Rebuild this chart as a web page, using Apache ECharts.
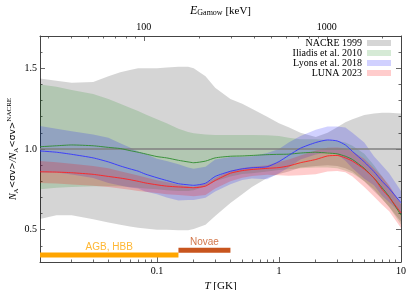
<!DOCTYPE html>
<html><head><meta charset="utf-8">
<script src="https://cdn.jsdelivr.net/npm/echarts@6/dist/echarts.min.js"></script>
<style>html,body{margin:0;padding:0;background:#fff}#c{width:415px;height:290px}</style>
</head><body><div id="c"></div>
<script>
// Temperature grid [GK]
const T = [0.011,0.015,0.02,0.03,0.04,0.05,0.06,0.07,0.08,0.1,0.12,0.15,0.18,0.2,0.25,0.3,0.4,0.5,0.6,0.8,1,1.2,1.5,2,2.5,3,3.5,4,5,6,7,8,10];
// NACRE 1999 band
const nacreLo = [0.567,0.59,0.59,0.565,0.545,0.53,0.52,0.512,0.508,0.5,0.5,0.497,0.497,0.505,0.53,0.585,0.665,0.72,0.765,0.82,0.845,0.86,0.885,0.895,0.9,0.895,0.88,0.86,0.8,0.74,0.69,0.64,0.55];
const nacreHi = [1.437,1.423,1.41,1.415,1.45,1.475,1.49,1.5,1.5,1.5,1.505,1.51,1.51,1.5,1.45,1.38,1.31,1.28,1.25,1.2,1.16,1.135,1.1,1.075,1.1,1.135,1.165,1.185,1.21,1.22,1.225,1.225,1.22];
// Iliadis et al. 2010
const iliLo  = [0.75,0.76,0.765,0.77,0.77,0.77,0.765,0.76,0.755,0.75,0.745,0.74,0.74,0.745,0.77,0.8,0.83,0.845,0.85,0.86,0.87,0.875,0.88,0.885,0.885,0.88,0.865,0.85,0.8,0.75,0.69,0.64,0.53];
const iliMid = [1.014,1.02,1.025,1.02,1.01,1.003,0.99,0.98,0.97,0.953,0.945,0.93,0.92,0.915,0.925,0.945,0.955,0.957,0.96,0.965,0.967,0.968,0.975,0.98,0.975,0.97,0.955,0.935,0.88,0.82,0.76,0.705,0.59];
const iliHi  = [1.4,1.385,1.365,1.34,1.31,1.28,1.255,1.235,1.215,1.185,1.16,1.125,1.105,1.097,1.09,1.087,1.087,1.087,1.087,1.085,1.08,1.07,1.06,1.06,1.055,1.05,1.04,1.02,0.97,0.9,0.83,0.77,0.66];
// Lyons et al. 2018
const lyoLo  = [0.854,0.854,0.842,0.82,0.79,0.774,0.762,0.756,0.736,0.719,0.7,0.681,0.684,0.684,0.698,0.737,0.782,0.808,0.818,0.812,0.85,0.886,0.935,0.966,0.978,0.967,0.927,0.88,0.815,0.775,0.71,0.67,0.6];
const lyoMid = [0.988,0.98,0.967,0.945,0.92,0.895,0.877,0.863,0.845,0.822,0.805,0.785,0.778,0.775,0.788,0.83,0.862,0.877,0.884,0.89,0.922,0.96,1.005,1.04,1.056,1.05,1.025,0.985,0.92,0.86,0.8,0.755,0.667];
const lyoHi  = [1.143,1.125,1.11,1.09,1.07,1.035,1.01,0.985,0.97,0.94,0.925,0.905,0.885,0.878,0.89,0.935,0.95,0.952,0.955,0.975,1.0,1.04,1.08,1.12,1.14,1.14,1.133,1.1,1.04,0.955,0.9,0.85,0.74];
// LUNA 2023
const lunaLo  = [0.79,0.787,0.78,0.772,0.765,0.755,0.748,0.74,0.735,0.728,0.72,0.715,0.71,0.708,0.715,0.755,0.8,0.822,0.832,0.84,0.838,0.835,0.838,0.843,0.86,0.863,0.856,0.83,0.765,0.705,0.655,0.615,0.51];
const lunaMid = [0.859,0.857,0.853,0.843,0.83,0.82,0.81,0.8,0.79,0.778,0.77,0.765,0.762,0.76,0.77,0.805,0.85,0.866,0.873,0.88,0.885,0.895,0.915,0.935,0.957,0.96,0.945,0.925,0.875,0.82,0.75,0.7,0.604];
const lunaHi  = [0.925,0.918,0.909,0.895,0.88,0.862,0.848,0.836,0.825,0.806,0.795,0.778,0.77,0.766,0.785,0.82,0.865,0.883,0.89,0.9,0.92,0.935,0.96,0.99,1.008,1.01,1.005,0.985,0.94,0.88,0.83,0.775,0.657];
// reference line (NACRE / NACRE)
const refT = [0.011, 10];
const refV = [1, 1];
// astrophysical sites
const agbRange = [0.011, 0.15];
const agbY = 0.343;
const novaeRange = [0.15, 0.4];
const novaeY = 0.373;
// ticks
const tMajor = [0.1, 1, 10];
const tMinor = [0.02,0.03,0.04,0.05,0.06,0.07,0.08,0.09,0.2,0.3,0.4,0.5,0.6,0.7,0.8,0.9,2,3,4,5,6,7,8,9];
const eMajor = [100, 1000];
const eMinor = [30,40,50,60,70,80,90,200,300,400,500,600,700,800,900,2000];
const yMajor = [0.5, 1.0, 1.5];
const yMinor = [0.3,0.4,0.6,0.7,0.8,0.9,1.1,1.2,1.3,1.4,1.6,1.7];
const tMin = 0.011, tMax = 10;
const gamowCoef = 548; // E0[keV] = coef * T9^(2/3)
const eMin = gamowCoef * Math.pow(tMin, 2/3), eMax = gamowCoef * Math.pow(tMax, 2/3);

const C = {
  nacre: 'rgba(0,0,0,0.165)',
  ili: 'rgba(0,128,0,0.165)',
  lyo: 'rgba(0,0,255,0.18)',
  luna: 'rgba(255,0,0,0.2)'
};
const serif = 'Liberation Serif';
const frame = '#444';

function band(name, lo, hi, color, z) {
  return {
    type: 'custom', name: name, z: z, xAxisIndex: 0, yAxisIndex: 0, clip: true,
    itemStyle: { color: color },
    data: T.map((t, i) => [t, lo[i], hi[i]]),
    encode: { x: 0, y: [1, 2] },
    renderItem: function (params, api) {
      if (params.dataIndex !== 0) return null;
      const pts = [];
      for (let i = 0; i < T.length; i++) pts.push(api.coord([T[i], hi[i]]));
      for (let i = T.length - 1; i >= 0; i--) pts.push(api.coord([T[i], lo[i]]));
      return { type: 'polygon', shape: { points: pts }, style: { fill: color }, silent: true };
    }
  };
}
function line(name, ys, color, w, z) {
  return { type: 'line', name: name, z: z, data: T.map((t, i) => [t, ys[i]]), showSymbol: false, symbol: 'none',
    smooth: 0.2, lineStyle: { color: color, width: w }, silent: true };
}
function tickAxis(type, pos, min, max, vals, len, extra) {
  return Object.assign({
    type: 'log', logBase: 10, position: pos, min: min, max: max,
    axisLine: { show: false }, splitLine: { show: false },
    axisTick: { show: true, inside: true, length: len, customValues: vals, lineStyle: { color: frame, width: 0.8 } },
    axisLabel: { show: false }
  }, extra || {});
}
const fmt = v => String(+(+v).toPrecision(3));

const option = {
  animation: false,
  backgroundColor: '#fff',
  grid: { left: 40, right: 14, top: 36, bottom: 28, containLabel: false, outerBoundsMode: 'none' },
  legend: {
    right: 24, top: 38, orient: 'vertical', align: 'right', padding: 0, itemGap: 0,
    itemWidth: 24, itemHeight: 6, icon: 'rect',
    textStyle: { fontFamily: serif, fontSize: 10, color: '#000', lineHeight: 10 },
    data: [
      { name: 'NACRE 1999', itemStyle: { color: C.nacre } },
      { name: 'Iliadis et al. 2010', itemStyle: { color: C.ili } },
      { name: 'Lyons et al. 2018', itemStyle: { color: C.lyo } },
      { name: 'LUNA 2023', itemStyle: { color: C.luna } }
    ]
  },
  xAxis: [
    {
      type: 'log', logBase: 10, position: 'bottom', min: tMin, max: tMax,
      axisLine: { show: true, lineStyle: { color: frame, width: 1 } }, splitLine: { show: false },
      axisTick: { show: true, inside: true, length: 5, customValues: tMajor, lineStyle: { color: frame, width: 0.8 } },
      axisLabel: { customValues: tMajor, formatter: fmt, fontFamily: serif, fontSize: 10, color: '#000', margin: 4 },
      name: '{i|T}{n| [GK]}', nameLocation: 'middle', nameGap: 12,
      nameTextStyle: { rich: { i: { fontFamily: serif, fontStyle: 'italic', fontSize: 11, color: '#000' }, n: { fontFamily: serif, fontSize: 11, color: '#000' } } }
    },
    tickAxis('log', 'bottom', tMin, tMax, tMinor, 2.5),
    {
      type: 'log', logBase: 10, position: 'top', min: eMin, max: eMax,
      axisLine: { show: true, lineStyle: { color: frame, width: 1 } }, splitLine: { show: false },
      axisTick: { show: true, inside: true, length: 5, customValues: eMajor, lineStyle: { color: frame, width: 0.8 } },
      axisLabel: { customValues: eMajor, formatter: fmt, fontFamily: serif, fontSize: 10, color: '#000', margin: 4 },
      name: '{i|E}{s|Gamow}{n| [keV]}', nameLocation: 'middle', nameGap: 17,
      nameTextStyle: { rich: {
        i: { fontFamily: serif, fontStyle: 'italic', fontSize: 12, color: '#000', verticalAlign: 'bottom', lineHeight: 14 },
        s: { fontFamily: serif, fontSize: 8, color: '#000', verticalAlign: 'bottom', lineHeight: 10 },
        n: { fontFamily: serif, fontSize: 11, color: '#000', verticalAlign: 'bottom', lineHeight: 14 } } }
    },
    tickAxis('log', 'top', eMin, eMax, eMinor, 2.5)
  ],
  yAxis: [
    {
      type: 'value', position: 'left', min: 0.3, max: 1.7,
      axisLine: { show: true, lineStyle: { color: frame, width: 1 } }, splitLine: { show: false },
      axisTick: { show: true, inside: true, length: 5, customValues: yMajor, lineStyle: { color: frame, width: 0.8 } },
      axisLabel: { customValues: yMajor, formatter: v => (+v).toFixed(1), fontFamily: serif, fontSize: 10, color: '#000', margin: 3 },
      name: '{n|N}{s|A}{b|<σv>}{n|/N}{s|A}{b|<σv>}{p|NACRE}', nameLocation: 'middle', nameGap: 20, nameRotate: 90,
      nameMoveOverlap: false,
      nameTextStyle: { rich: {
        n: { fontFamily: serif, fontStyle: 'italic', fontSize: 10, color: '#000', verticalAlign: 'middle', lineHeight: 14 },
        s: { fontFamily: serif, fontSize: 7, color: '#000', verticalAlign: 'bottom', lineHeight: 10 },
        b: { fontFamily: 'DejaVu Sans', fontSize: 9, color: '#000', verticalAlign: 'middle', lineHeight: 14 },
        p: { fontFamily: serif, fontSize: 7, color: '#000', verticalAlign: 'top', lineHeight: 14 } } }
    },
    { type: 'value', position: 'left', min: 0.3, max: 1.7, axisLine: { show: false }, splitLine: { show: false },
      axisTick: { show: true, inside: true, length: 2.5, customValues: yMinor, lineStyle: { color: frame, width: 0.8 } }, axisLabel: { show: false } },
    { type: 'value', position: 'right', min: 0.3, max: 1.7, axisLine: { show: true, lineStyle: { color: frame, width: 1 } }, splitLine: { show: false },
      axisTick: { show: true, inside: true, length: 5, customValues: yMajor, lineStyle: { color: frame, width: 0.8 } }, axisLabel: { show: false } },
    { type: 'value', position: 'right', min: 0.3, max: 1.7, axisLine: { show: false }, splitLine: { show: false },
      axisTick: { show: true, inside: true, length: 2.5, customValues: yMinor, lineStyle: { color: frame, width: 0.8 } }, axisLabel: { show: false } }
  ],
  series: [
    band('NACRE 1999', nacreLo, nacreHi, C.nacre, 1),
    band('Iliadis et al. 2010', iliLo, iliHi, C.ili, 2),
    band('Lyons et al. 2018', lyoLo, lyoHi, C.lyo, 3),
    band('LUNA 2023', lunaLo, lunaHi, C.luna, 4),
    { type: 'line', z: 5, data: refT.map((t, i) => [t, refV[i]]), symbol: 'none', lineStyle: { color: '#808080', width: 1.3 }, silent: true },
    line('iliMid', iliMid, '#2e8b2e', 0.9, 6),
    line('lyoMid', lyoMid, '#3333ff', 0.9, 7),
    line('lunaMid', lunaMid, '#ff2020', 0.9, 8),
    { type: 'line', z: 9, data: agbRange.map(t => [t, agbY]), symbol: 'none', lineStyle: { color: '#ffa500', width: 5, cap: 'butt' }, silent: true },
    { type: 'line', z: 9, data: novaeRange.map(t => [t, novaeY]), symbol: 'none', lineStyle: { color: '#c8551e', width: 5, cap: 'butt' }, silent: true },
    { type: 'scatter', z: 10, symbolSize: 0, silent: true,
      data: [
        { value: [Math.sqrt(agbRange[0] * agbRange[1]), agbY], label: { formatter: 'AGB, HBB', color: '#ffa500' } },
        { value: [Math.sqrt(novaeRange[0] * novaeRange[1]), novaeY], label: { formatter: 'Novae', color: '#c8551e' } }
      ],
      label: { show: true, position: 'top', distance: 3, fontFamily: 'Liberation Sans', fontSize: 10 } }
  ]
};
const chart = echarts.init(document.getElementById('c'), null, { renderer: 'canvas' });
chart.setOption(option);
</script></body></html>
